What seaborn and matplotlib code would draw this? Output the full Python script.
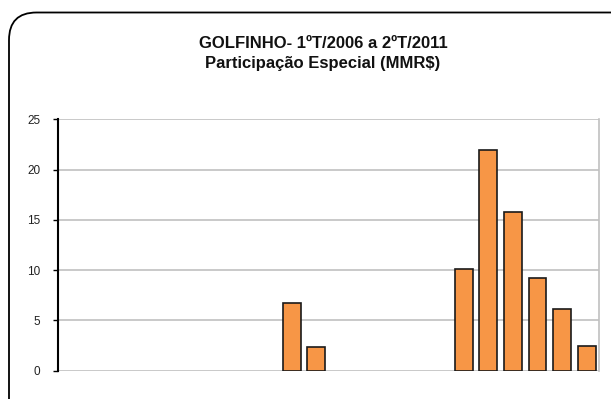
import matplotlib
matplotlib.use("Agg")
import matplotlib.pyplot as plt
from matplotlib.patches import FancyBboxPatch
import seaborn as sns
import pandas as pd
import numpy as np

# Quarterly periods from 1ºT/2006 to 2ºT/2011
years = [2006, 2007, 2008, 2009, 2010, 2011]
quarters = [f"{q}ºT/{y}" for y in years for q in range(1, 5)][:22]

# Participação Especial (MMR$) per quarter; NaN where nothing was paid
nan = np.nan
values = [nan, nan, nan, nan, nan, nan, nan, nan, nan, 6.7, 2.4, nan, nan, nan, nan, nan,
          10.1, 21.9, 15.8, 9.2, 6.1, 2.5]

df = pd.DataFrame({"periodo": quarters, "valor": values})

sns.set_theme(style="white")
plt.rcParams["font.family"] = ["Liberation Sans", "DejaVu Sans"]

fig = plt.figure(figsize=(6.11, 3.99), dpi=100)
ax = fig.add_axes([58 / 611, 1 - 370.7 / 399, 541 / 611, 251.4 / 399])

sns.barplot(data=df, x="periodo", y="valor", order=quarters, color="#F79646",
            saturation=1, width=0.73, edgecolor="#1a1a1a", linewidth=1.2,
            ax=ax, zorder=3)

ax.set_ylim(0, 25)
ax.set_xlim(-0.5, len(quarters) - 0.5)
ax.set_yticks([0, 5, 10, 15, 20, 25])
ax.set_xticks([])
ax.set_xlabel("")
ax.set_ylabel("")
ax.yaxis.grid(True, color="#c0c0c0", linewidth=1.2, zorder=0)
ax.set_axisbelow(True)

ax.spines["top"].set_visible(False)
ax.spines["bottom"].set_visible(False)
ax.spines["right"].set_color("#c0c0c0")
ax.spines["right"].set_linewidth(1.2)
ax.spines["left"].set_color("black")
ax.spines["left"].set_linewidth(1.5)
ax.tick_params(axis="y", direction="out", length=3.6, width=1, color="black",
               labelsize=8.5, pad=9, left=True, labelcolor="#222222")

fig.text(0.5285, 1 - 43.5 / 399, "GOLFINHO- 1ºT/2006 a 2ºT/2011",
         ha="center", va="center", fontsize=12, fontweight="bold", color="#111111")
fig.text(0.5285, 1 - 63.5 / 399, "Participação Especial (MMR$)",
         ha="center", va="center", fontsize=12, fontweight="bold", color="#111111")

# Rounded chart frame
frame = FancyBboxPatch((9 / 611, -0.2), 1.2, 1.2 - 12.5 / 399,
                       boxstyle="round,pad=0,rounding_size=0.045",
                       transform=fig.transFigure, fill=False,
                       edgecolor="black", linewidth=1.3, mutation_aspect=611 / 399)
fig.patches.append(frame)

fig.savefig("out.png", dpi=100)
